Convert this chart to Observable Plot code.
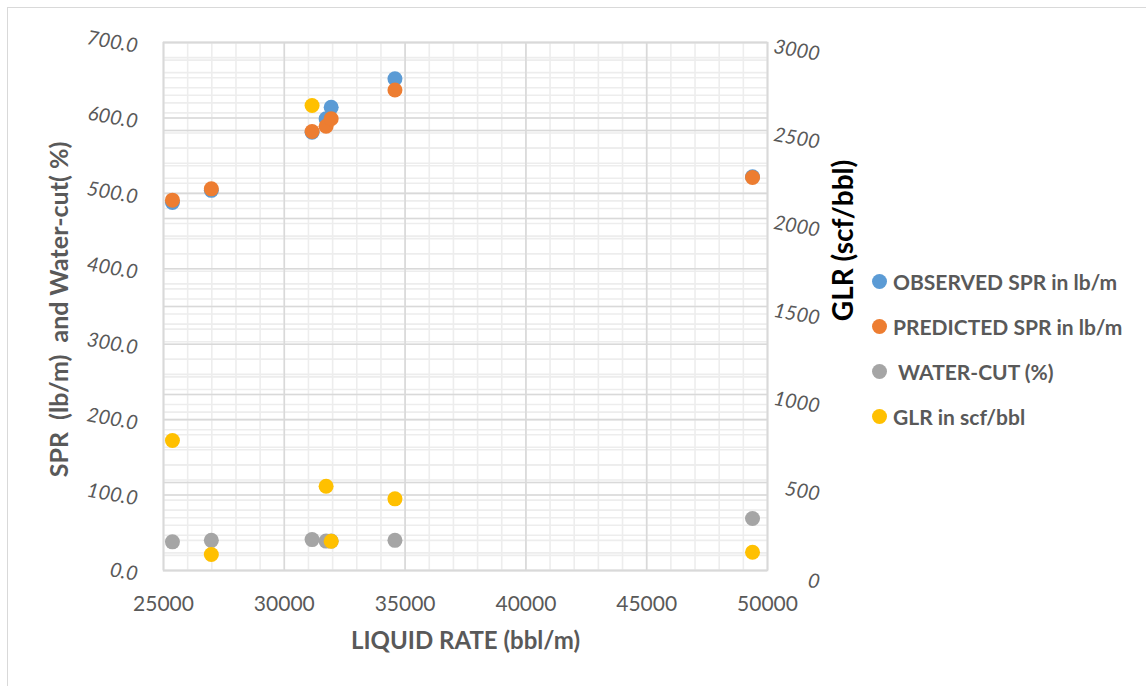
<!DOCTYPE html>
<html>
<head>
<meta charset="utf-8">
<script src="https://cdn.jsdelivr.net/npm/d3@7"></script>
<script src="https://cdn.jsdelivr.net/npm/@observablehq/plot@0.6"></script>
<style>
  html, body { margin: 0; padding: 0; background: #fff; overflow: hidden; }
  #wrap { position: relative; width: 1146px; height: 686px; font-family: Lato, "Open Sans", sans-serif; }
  #frame { position: absolute; left: 7px; top: 7px; width: 1160px; height: 700px; border: 1px solid #D9D9D9; box-sizing: border-box; }
  #chart { position: absolute; left: 0; top: 0; }
  #chart svg text { white-space: pre; }
  #legend { position: absolute; left: 872px; top: 259px; }
  .item { display: flex; align-items: center; height: 45px; font-weight: bold; font-size: 21px; color: #595959; white-space: pre; }
  .sw { width: 15px; height: 15px; border-radius: 50%; margin-right: 6px; flex: none; }
</style>
</head>
<body>
<div id="wrap">
  <div id="frame"></div>
  <div id="chart"></div>
  <div id="legend"></div>
</div>
<script>
// Well test data: liquid rate against sucker-rod pump results
const liquidRate   = [25370, 26980, 31150, 31730, 31940, 34580, 49380];
const observedSPR  = [488, 504, 581, 599, 614, 652, 522];
const predictedSPR = [491, 506, 582, 589, 599, 637, 521];
const waterCut     = [38, 40, 41, 39, 39, 40, 69];
const glr          = [739, 91, 2642, 479, 166, 407, 104];

const seriesNames  = ["OBSERVED SPR in lb/m", "PREDICTED SPR in lb/m", " WATER-CUT (%)", "GLR in scf/bbl"];
const seriesColors = ["#5B9BD5", "#ED7D31", "#A5A5A5", "#FFC000"];

const xTicks     = [25000, 30000, 35000, 40000, 45000, 50000];
const leftTicks  = [0, 100, 200, 300, 400, 500, 600, 700];
const rightTicks = [0, 500, 1000, 1500, 2000, 2500, 3000];

const leftMax = 700, rightMax = 3000;
const toLeft = v => v * leftMax / rightMax;   // secondary (GLR) axis mapped onto the primary scale

const xMinor     = d3.range(25000, 50001, 1000);
const leftMinor  = d3.range(0, leftMax + 1, 20);
const rightMinor = d3.range(0, rightMax + 1, 100).map(toLeft);

// one row per plotted point, in drawing order
const seriesValues = [observedSPR, predictedSPR, waterCut, glr.map(toLeft)];
const points = seriesValues.flatMap((vals, s) =>
  vals.map((v, i) => ({series: seriesNames[s], x: liquidRate[i], y: v}))
);

const minorStyle = {stroke: "#EDEDED", strokeOpacity: 1, strokeWidth: 1.6};
const majorStyle = {stroke: "#D9D9D9", strokeOpacity: 1, strokeWidth: 1.6};
const tickText = {fontSize: 20, fill: "#595959"};

const chart = Plot.plot({
  width: 1146,
  height: 686,
  marginLeft: 163,
  marginRight: 379,
  marginTop: 42,
  marginBottom: 116,
  style: {fontFamily: "Lato, 'Open Sans', sans-serif", background: "transparent", overflow: "visible"},
  x: {domain: [25000, 50000]},
  y: {domain: [0, leftMax]},
  color: {domain: seriesNames, range: seriesColors},
  marks: [
    Plot.gridX(xMinor, minorStyle),
    Plot.gridY(leftMinor, minorStyle),
    Plot.gridY(rightMinor, minorStyle),
    Plot.gridX(xTicks, majorStyle),
    Plot.gridY(leftTicks, majorStyle),
    Plot.gridY(rightTicks.map(toLeft), majorStyle),
    Plot.frame({stroke: "#D9D9D9", strokeWidth: 1.6}),
    Plot.dot(points, {x: "x", y: "y", fill: "series", r: 7.5}),
    Plot.axisX(xTicks, {tickSize: 0, tickPadding: 26, tickFormat: d3.format("d"), label: null, ...tickText, fontSize: 21}),
    Plot.axisY(leftTicks, {
      anchor: "left", tickSize: 0, tickPadding: 26, tickRotate: 10, dy: 4,
      fontStyle: "italic", tickFormat: d3.format(".1f"), label: null, ...tickText
    }),
    Plot.axisY(rightTicks.map(toLeft), {
      anchor: "right", tickSize: 0, tickPadding: 52, textAnchor: "end", tickRotate: 10, dy: 12,
      fontStyle: "italic", tickFormat: d => String(Math.round(d * rightMax / leftMax)), label: null, ...tickText
    }),
    Plot.text(["SPR  (lb/m)  and Water-cut( %)"], {
      frameAnchor: "left", textAnchor: "middle", dx: -104, dy: 3, rotate: -90,
      fontSize: 25, fontWeight: "bold", fill: "#595959"
    }),
    Plot.text(["GLR (scf/bbl)"], {
      frameAnchor: "right", textAnchor: "middle", dx: 77, dy: -66, rotate: -90,
      fontSize: 28, fontWeight: "bold", fill: "#000000"
    }),
    Plot.text(["LIQUID RATE (bbl/m)"], {
      frameAnchor: "bottom", textAnchor: "middle", dy: 78,
      fontSize: 24, fontWeight: "bold", fill: "#595959"
    })
  ]
});
document.getElementById("chart").append(chart);

// legend
const legend = d3.select("#legend");
seriesNames.forEach((name, i) => {
  const item = legend.append("div").attr("class", "item");
  item.append("div").attr("class", "sw").style("background", seriesColors[i]);
  item.append("span").text(name);
});
</script>
</body>
</html>
